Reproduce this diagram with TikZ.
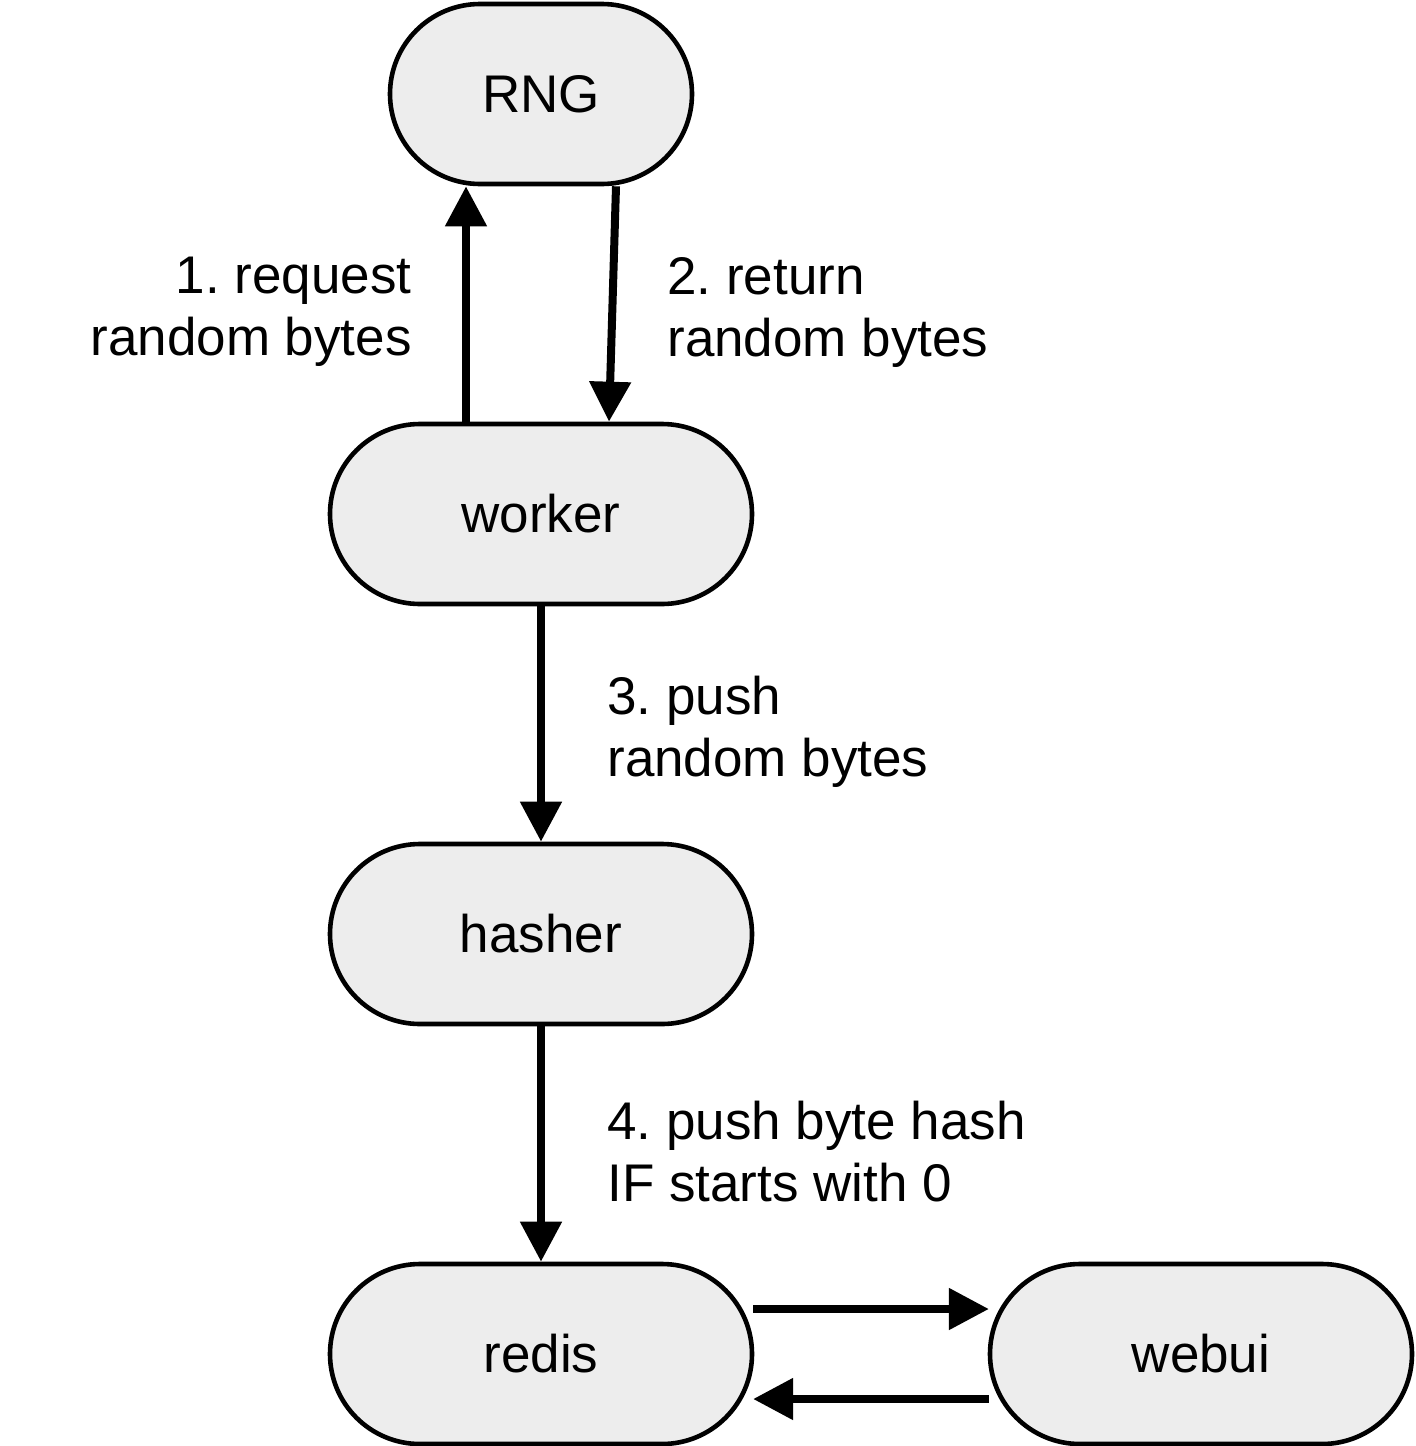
\documentclass[tikz,border=0pt]{standalone}
\usepackage{fontspec}
\setmainfont{Liberation Sans}
\usetikzlibrary{arrows.meta}
\begin{document}
\frenchspacing
\begin{tikzpicture}[x=0.5pt,y=-0.5pt,
  svc/.style={draw=black, line width=2.3pt, fill=black!7, rounded corners=45pt,
    inner sep=0pt, font=\fontsize{26.5}{31}\selectfont},
  flow/.style={line width=4pt, -{Triangle[length=20pt,width=20pt]}},
  lbl/.style={font=\fontsize{26.5}{31}\selectfont, inner sep=0pt}
]
\useasboundingbox (0,0) rectangle (1416,1446);
\node[svc, minimum width=151pt, minimum height=90pt] (rng) at (541,94) {RNG};
\node[svc, minimum width=211pt, minimum height=90pt] (worker) at (541,514) {worker};
\node[svc, minimum width=211pt, minimum height=90pt] (hasher) at (541,934) {hasher};
\node[svc, minimum width=211pt, minimum height=90pt] (redis) at (541,1354) {redis};
\node[svc, minimum width=211pt, minimum height=90pt] (webui) at (1201,1354) {webui};

\draw[flow] ([xshift=-37.5pt]worker.north) -- ([xshift=-37.5pt]rng.south);
\draw[flow] ([xshift=37.5pt]rng.south) -- ([xshift=34pt]worker.north);
\draw[flow] (worker.south) -- (hasher.north);
\draw[flow] (hasher.south) -- (redis.north);
\draw[flow] ([yshift=22.5pt,xshift=-0.6pt]redis.east) -- ([yshift=22.5pt,xshift=0.6pt]webui.west);
\draw[flow] ([yshift=-22.5pt,xshift=0.6pt]webui.west) -- ([yshift=-22.5pt,xshift=-0.6pt]redis.east);

\node[lbl, align=right, anchor=east] (l1) at (412,312) {1. request\\random bytes};
\node[lbl, align=left, anchor=west] (l2) at (667,312) {2. return\\random bytes};
\node[lbl, align=left, anchor=west] (l3) at (607,732) {3. push\\random bytes};
\node[lbl, align=left, anchor=west] (l4) at (607,1152) {4. push byte hash\\IF starts with 0};
\end{tikzpicture}
\end{document}
